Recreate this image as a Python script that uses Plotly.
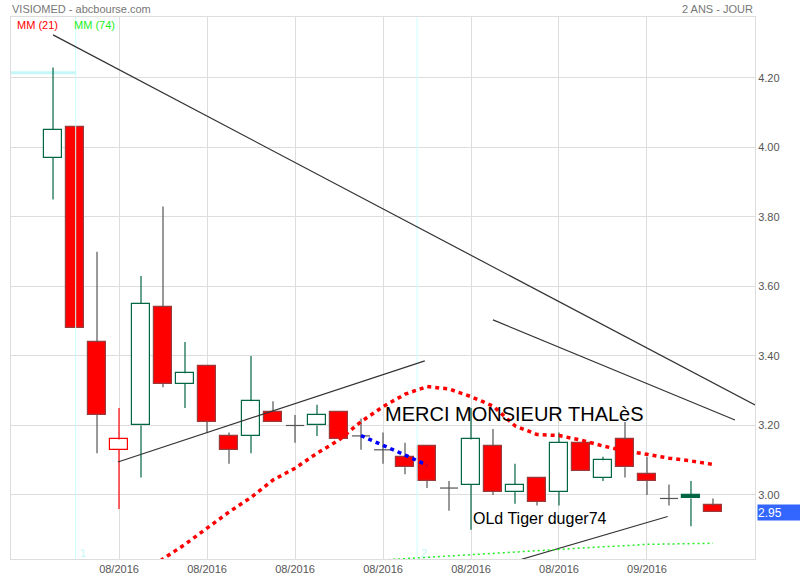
import plotly.graph_objects as go

# ---------------- data ----------------
idx = list(range(31))
opens  = [3.97, 4.06, 3.44, 3.13, 3.20, 3.54, 3.32, 3.37, 3.17, 3.17, 3.24, 3.20, 3.20, 3.24, 3.17, 3.13,
          3.11, 3.14, 3.02, 3.03, 3.14, 3.01, 3.05, 3.01, 3.15, 3.05, 3.16, 3.06, 2.99, 3.00, 2.97]
highs  = [4.23, 4.06, 3.70, 3.25, 3.63, 3.83, 3.44, 3.37, 3.18, 3.40, 3.27, 3.23, 3.26, 3.24, 3.22, 3.18,
          3.15, 3.14, 3.04, 3.25, 3.19, 3.09, 3.05, 3.18, 3.15, 3.11, 3.21, 3.11, 3.03, 3.04, 2.99]
lows   = [3.85, 3.48, 3.12, 2.96, 3.05, 3.31, 3.25, 3.18, 3.09, 3.12, 3.21, 3.15, 3.17, 3.16, 3.13, 3.09,
          3.06, 3.02, 2.955, 2.90, 3.00, 2.975, 2.97, 2.97, 3.07, 3.04, 3.05, 3.00, 2.97, 2.91, 2.95]
closes = [4.05, 3.48, 3.23, 3.16, 3.55, 3.32, 3.35, 3.21, 3.13, 3.27, 3.21, 3.20, 3.23, 3.16, 3.17, 3.13,
          3.08, 3.04, 3.02, 3.16, 3.01, 3.03, 2.98, 3.15, 3.07, 3.10, 3.08, 3.04, 2.99, 2.99, 2.95]
# hg: hollow green, rf: red filled, hr: hollow red, gf: green filled, dj: doji cross
styles = ["hg", "rf", "rf", "hr", "hg", "rf", "hg", "rf", "rf", "hg", "rf", "dj", "hg", "rf", "dj", "dj",
          "rf", "rf", "dj", "hg", "rf", "hg", "rf", "hg", "rf", "hg", "rf", "rf", "dj", "gf", "rf"]

ma21_x = list(range(4, 31))
ma21 = [2.77, 2.816, 2.858, 2.905, 2.951, 2.993, 3.043, 3.077, 3.120, 3.158, 3.211, 3.254, 3.290, 3.312,
        3.305, 3.283, 3.256, 3.199, 3.174, 3.171, 3.158, 3.141, 3.127, 3.117, 3.106, 3.098, 3.088]
ma74_x = list(range(15, 31))
ma74 = [2.813, 2.817, 2.820, 2.824, 2.827, 2.832, 2.836, 2.840, 2.844, 2.847, 2.851, 2.854, 2.858,
        2.859, 2.860, 2.861]
blue_x = [14, 15, 16, 17]
blue_y = [3.171, 3.144, 3.115, 3.086]

# user drawn trend lines: (x0, y0, x1, y1) in candle index / price
trend_lines = [
    (0.0, 4.324, 31.91, 3.259),
    (20.0, 3.504, 31.0, 3.216),
    (2.95, 3.095, 16.9, 3.386),
    (21.3, 2.815, 27.94, 2.938),
]
cyan_marks_x = [1.03, 16.55]
cyan_marks_text = ["1", "2"]
cyan_level = 4.215

tick_idx = [3, 7, 11, 15, 19, 23, 27]
tick_text = ["08/2016", "08/2016", "08/2016", "08/2016", "08/2016", "08/2016", "09/2016"]
y_ticks = [3.0, 3.2, 3.4, 3.6, 3.8, 4.0, 4.2]
last_price = 2.95

X_RANGE = [-1.91, 31.91]
Y_RANGE = [2.8158, 4.3755]

GREEN = "#006644"
RED = "#ff0000"
GRAY = "#555555"
FONT = "Liberation Sans, Arial, sans-serif"

style_def = {
    "hg": dict(fill="#ffffff", line=GREEN, wick=GREEN),
    "rf": dict(fill=RED, line="#9a3a3a", wick=GRAY),
    "hr": dict(fill="#ffffff", line=RED, wick=RED),
    "gf": dict(fill=GREEN, line=GREEN, wick=GREEN),
}
BODY_W = 0.82

fig = go.Figure()

# cyan separators
for cx in cyan_marks_x:
    fig.add_trace(go.Scatter(x=[cx, cx], y=Y_RANGE, mode="lines",
                             line=dict(color="#ccffff", width=1), hoverinfo="skip"))
fig.add_trace(go.Scatter(x=[X_RANGE[0], cyan_marks_x[0]], y=[cyan_level, cyan_level], mode="lines",
                         line=dict(color="#c4f7f7", width=3), hoverinfo="skip"))

# candle bodies and wicks
for key, sd in style_def.items():
    sel = [i for i in idx if styles[i] == key]
    if not sel:
        continue
    fig.add_trace(go.Bar(
        x=sel,
        y=[abs(closes[i] - opens[i]) for i in sel],
        base=[min(opens[i], closes[i]) for i in sel],
        width=BODY_W,
        marker=dict(color=sd["fill"], line=dict(color=sd["line"], width=1.2)),
        hoverinfo="skip",
    ))
    wx, wy = [], []
    for i in sel:
        top = max(opens[i], closes[i])
        bot = min(opens[i], closes[i])
        if highs[i] > top:
            wx += [i, i, None]
            wy += [top, highs[i], None]
        if lows[i] < bot:
            wx += [i, i, None]
            wy += [bot, lows[i], None]
    fig.add_trace(go.Scatter(x=wx, y=wy, mode="lines", line=dict(color=sd["wick"], width=1.2),
                             hoverinfo="skip"))

# doji crosses
dx, dy = [], []
for i in idx:
    if styles[i] == "dj":
        dx += [i, i, None, i - BODY_W / 2, i + BODY_W / 2, None]
        dy += [lows[i], highs[i], None, opens[i], opens[i], None]
fig.add_trace(go.Scatter(x=dx, y=dy, mode="lines", line=dict(color=GRAY, width=1.2), hoverinfo="skip"))

# trend lines
for (x0, y0, x1, y1) in trend_lines:
    fig.add_trace(go.Scatter(x=[x0, x1], y=[y0, y1], mode="lines",
                             line=dict(color="#333333", width=1.2), hoverinfo="skip"))

# moving averages
fig.add_trace(go.Scatter(x=ma74_x, y=ma74, mode="lines",
                         line=dict(color="#22ee22", width=1.5, dash="2px,3px"), hoverinfo="skip"))
fig.add_trace(go.Scatter(x=ma21_x, y=ma21, mode="lines",
                         line=dict(color=RED, width=3.5, dash="4px,4px"), hoverinfo="skip"))
fig.add_trace(go.Scatter(x=blue_x, y=blue_y, mode="lines",
                         line=dict(color="#0000ff", width=3.5, dash="4px,4px"), hoverinfo="skip"))

annotations = [
    dict(text="VISIOMED - abcbourse.com", xref="paper", yref="paper", x=-0.0013, y=1.0148,
         xanchor="left", yanchor="middle", showarrow=False, font=dict(size=11, color="#777777")),
    dict(text="2 ANS - JOUR", xref="paper", yref="paper", x=1.0, y=1.0148,
         xanchor="right", yanchor="middle", showarrow=False, font=dict(size=11, color="#777777")),
    dict(text="MM (21)", xref="paper", yref="paper", x=0.0054, y=0.9852,
         xanchor="left", yanchor="middle", showarrow=False, font=dict(size=11, color=RED)),
    dict(text="MM (74)", xref="paper", yref="paper", x=0.082, y=0.9852,
         xanchor="left", yanchor="middle", showarrow=False, font=dict(size=11, color="#22ee22")),
    dict(text="MERCI MONSIEUR THALèS", xref="x", yref="y", x=15.0, y=3.233,
         xanchor="left", yanchor="middle", showarrow=False, font=dict(size=20, color="#000000")),
    dict(text="OLd Tiger duger74", xref="x", yref="y", x=19.0, y=2.931,
         xanchor="left", yanchor="middle", showarrow=False, font=dict(size=16, color="#000000")),
    dict(text="2.95", xref="paper", yref="y", x=1.0027, y=last_price,
         xanchor="left", yanchor="middle", showarrow=False, width=43, height=15, align="left",
         bgcolor="#3366ff", borderpad=0, font=dict(size=12, color="#ffffff")),
]
for cx, ct in zip(cyan_marks_x, cyan_marks_text):
    annotations.append(dict(text=ct, xref="x", yref="paper", x=cx, y=0.011, xanchor="left",
                            yanchor="middle", showarrow=False, xshift=2,
                            font=dict(size=11, color="#c4f7f7")))

fig.update_layout(
    width=800, height=580,
    margin=dict(l=11, r=45, t=17, b=21, autoexpand=False),
    paper_bgcolor="#ffffff", plot_bgcolor="#ffffff",
    showlegend=False, barmode="overlay", bargap=0,
    font=dict(family=FONT, size=11, color="#555555"),
    annotations=annotations,
    xaxis=dict(range=X_RANGE, tickmode="array", tickvals=tick_idx, ticktext=tick_text,
               showgrid=True, gridcolor="#dddddd", gridwidth=1, zeroline=False,
               showline=True, mirror=True, linecolor="#dddddd", ticks="", automargin=False,
               tickfont=dict(size=11, color="#555555"), fixedrange=True),
    yaxis=dict(range=Y_RANGE, side="right", tickmode="array", tickvals=y_ticks,
               ticktext=["%.2f" % v for v in y_ticks], automargin=False,
               showgrid=True, gridcolor="#dddddd", gridwidth=1, zeroline=False,
               showline=True, mirror=True, linecolor="#dddddd", ticks="",
               tickfont=dict(size=11, color="#555555"), fixedrange=True),
)

fig.write_html("out.html", config={"displayModeBar": False},
               post_script="document.body.style.margin='0';document.body.style.overflow='hidden';")
